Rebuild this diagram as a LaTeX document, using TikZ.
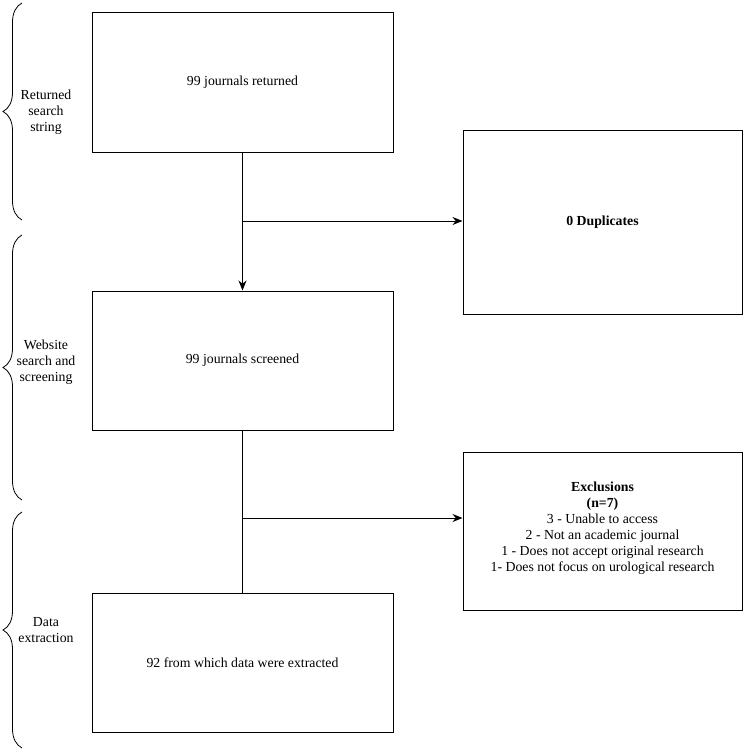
\documentclass[tikz,border=0pt]{standalone}
\usepackage{fontspec}
\setmainfont{Liberation Serif}
\usetikzlibrary{arrows.meta,decorations.pathreplacing}
\begin{document}
\begin{tikzpicture}[x=1pt,y=-1pt,
  box/.style={draw,line width=1pt,inner sep=0pt,align=center,font=\fontsize{13.8}{16}\selectfont},
  arr/.style={line width=1pt,-{Stealth[length=10pt,width=8pt]}},
  conn/.style={line width=1pt},
  phase/.style={align=center,font=\fontsize{13.8}{16}\selectfont},
  brc/.style={line width=0.8pt,decorate,decoration={brace,amplitude=19pt}}]
\useasboundingbox (0,0) rectangle (744,752);
\node[box,minimum width=301pt,minimum height=139pt] (b1) at (242.5,82.5) {99 journals returned};
\node[box,minimum width=301pt,minimum height=139pt] (b2) at (242.5,360.5) {99 journals screened};
\node[box,minimum width=301pt,minimum height=139pt] (b3) at (242.5,662.5) {92 from which data were extracted};
\node[box,minimum width=279pt,minimum height=184pt] (r1) at (602.5,222) {\textbf{0 Duplicates}};
\node[box,minimum width=279pt,minimum height=158pt,text depth=8pt] (r2) at (602.5,531) {\textbf{Exclusions}\\\textbf{(n=7)}\\3 - Unable to access\\2 - Not an academic journal\\1 - Does not accept original research\\1- Does not focus on urological research};
\coordinate (j1) at (242.5,221);
\coordinate (j2) at (242.5,518);
\draw[arr] (b1.south) -- (b2.north);
\draw[arr] (j1) -- (j1 -| r1.west);
\draw[conn] (b2.south) -- (b3.north);
\draw[arr] (j2) -- (j2 -| r2.west);
\coordinate (s1a) at (22,220); \coordinate (s1b) at (22,3);
\coordinate (s2a) at (22,500); \coordinate (s2b) at (22,235);
\coordinate (s3a) at (22,748); \coordinate (s3b) at (22,512);
\draw[brc] (s1a) -- (s1b);
\draw[brc] (s2a) -- (s2b);
\draw[brc] (s3a) -- (s3b);
\node[phase] (p1) at (46,112) {Returned\\search\\string};
\node[phase] (p2) at (46,362) {Website\\search and\\screening};
\node[phase] (p3) at (46,630) {Data\\extraction};
\end{tikzpicture}
\end{document}
